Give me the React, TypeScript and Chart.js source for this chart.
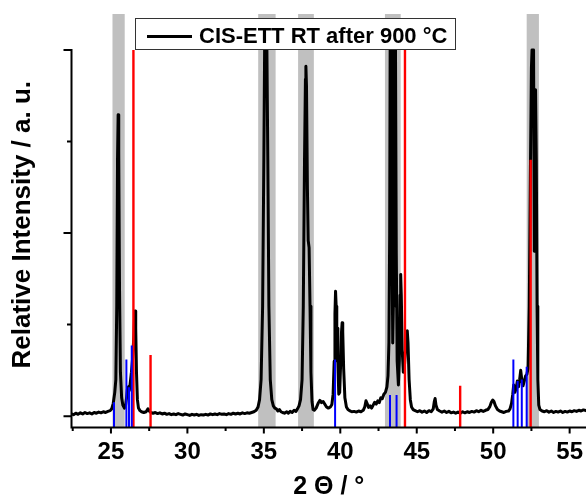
import React, { useEffect, useRef } from 'react';
import { Chart, registerables } from 'chart.js';

Chart.register(...registerables);

// Diffractogram: 2θ positions (degrees) and normalised intensity
const THETA = [
  22.42, 22.55, 22.7, 22.85, 23.0, 23.15, 23.3, 23.45, 23.6, 23.75, 23.9, 24.05, 24.2, 24.35, 24.5, 24.65, 24.8, 24.95,
  25.05, 25.15, 25.25, 25.32, 25.38, 25.43, 25.47, 25.51, 25.56, 25.62, 25.7, 25.78, 25.88, 25.96, 26.02, 26.08, 26.14,
  26.2, 26.26, 26.34, 26.42, 26.5, 26.55, 26.58, 26.62, 26.67, 26.73, 26.8, 26.9, 27.0, 27.15, 27.3, 27.42, 27.5, 27.6,
  27.75, 27.9, 28.05, 28.2, 28.35, 28.5, 28.65, 28.8, 28.95, 29.1, 29.25, 29.4, 29.55, 29.7, 29.85, 30.0, 30.15, 30.3,
  30.45, 30.6, 30.75, 30.9, 31.05, 31.2, 31.35, 31.5, 31.65, 31.8, 31.95, 32.1, 32.25, 32.4, 32.55, 32.7, 32.85, 33.0,
  33.15, 33.3, 33.45, 33.6, 33.75, 33.9, 34.05, 34.2, 34.35, 34.5, 34.62, 34.72, 34.82, 34.92, 35.0, 35.05, 35.2, 35.26,
  35.33, 35.42, 35.52, 35.62, 35.72, 35.82, 35.92, 36.02, 36.12, 36.22, 36.35, 36.5, 36.6, 36.72, 36.85, 36.98, 37.1,
  37.2, 37.3, 37.4, 37.5, 37.58, 37.66, 37.72, 37.75, 37.79, 37.85, 37.9, 37.96, 38.02, 38.08, 38.15, 38.22, 38.3,
  38.42, 38.55, 38.67, 38.77, 38.88, 38.98, 39.1, 39.22, 39.35, 39.45, 39.53, 39.6, 39.65, 39.69, 39.73, 39.77, 39.8,
  39.84, 39.9, 39.96, 40.02, 40.08, 40.12, 40.16, 40.22, 40.3, 40.4, 40.5, 40.6, 40.75, 40.9, 41.05, 41.2, 41.35, 41.5,
  41.6, 41.68, 41.75, 41.85, 41.95, 42.05, 42.15, 42.25, 42.35, 42.45, 42.55, 42.65, 42.75, 42.85, 42.95, 43.05, 43.12,
  43.18, 43.23, 43.26, 43.33, 43.38, 43.43, 43.47, 43.51, 43.61, 43.66, 43.72, 43.8, 43.86, 43.91, 43.95, 43.99, 44.05,
  44.12, 44.2, 44.28, 44.34, 44.38, 44.43, 44.5, 44.58, 44.66, 44.76, 44.9, 45.05, 45.2, 45.35, 45.5, 45.65, 45.8,
  45.95, 46.08, 46.15, 46.2, 46.26, 46.35, 46.5, 46.65, 46.8, 46.95, 47.1, 47.25, 47.4, 47.55, 47.7, 47.85, 48.0, 48.15,
  48.3, 48.45, 48.6, 48.75, 48.9, 49.05, 49.2, 49.35, 49.5, 49.65, 49.78, 49.88, 49.97, 50.05, 50.15, 50.28, 50.42,
  50.56, 50.7, 50.85, 51.0, 51.1, 51.2, 51.28, 51.34, 51.42, 51.5, 51.58, 51.66, 51.73, 51.8, 51.87, 51.95, 52.03,
  52.12, 52.2, 52.28, 52.36, 52.43, 52.5, 52.54, 52.64, 52.69, 52.73, 52.77, 52.82, 52.87, 52.92, 52.98, 53.06, 53.2,
  53.35, 53.5, 53.65, 53.8, 53.95, 54.1, 54.25, 54.4, 54.55, 54.7, 54.85, 55.0, 55.15, 55.3, 55.45, 55.6, 55.75, 55.9,
  56.07,
];
const INTENSITY = [
  0.006, 0.004, 0.008, 0.005, 0.009, 0.006, 0.01, 0.007, 0.009, 0.006, 0.01, 0.008, 0.011, 0.009, 0.012, 0.01, 0.013, 0.015,
  0.02, 0.035, 0.065, 0.1, 0.3, 0.7, 0.823, 0.72, 0.35, 0.12, 0.05, 0.03, 0.022, 0.03, 0.05, 0.075, 0.08,
  0.07, 0.09, 0.12, 0.16, 0.22, 0.28, 0.287, 0.24, 0.12, 0.045, 0.022, 0.015, 0.012, 0.01, 0.012, 0.02, 0.014, 0.01,
  0.008, 0.01, 0.007, 0.009, 0.006, 0.008, 0.005, 0.007, 0.004, 0.006, 0.004, 0.007, 0.005, 0.003, 0.006, 0.004, 0.002, 0.005,
  0.003, 0.005, 0.002, 0.004, 0.003, 0.005, 0.003, 0.006, 0.004, 0.006, 0.004, 0.007, 0.005, 0.006, 0.004, 0.007, 0.005, 0.008,
  0.006, 0.008, 0.006, 0.009, 0.007, 0.009, 0.008, 0.01, 0.012, 0.016, 0.025, 0.045, 0.1, 0.3, 0.7, 1.0, 1.0, 0.7,
  0.3, 0.1, 0.045, 0.028, 0.022, 0.02, 0.014, 0.018, 0.012, 0.01, 0.008, 0.012, 0.008, 0.013, 0.01, 0.016, 0.013,
  0.02, 0.028, 0.045, 0.1, 0.3, 0.7, 0.92, 0.955, 0.9, 0.62, 0.48, 0.46, 0.3, 0.12, 0.04, 0.018, 0.016,
  0.022, 0.035, 0.043, 0.037, 0.04, 0.033, 0.025, 0.022, 0.025, 0.032, 0.06, 0.15, 0.28, 0.341, 0.3, 0.22, 0.24,
  0.15, 0.06, 0.065, 0.14, 0.23, 0.255, 0.23, 0.13, 0.05, 0.025, 0.018, 0.015, 0.012, 0.013, 0.011, 0.014, 0.012, 0.016,
  0.025, 0.042, 0.035, 0.024, 0.028, 0.022, 0.03, 0.038, 0.033, 0.042, 0.037, 0.05, 0.048, 0.06, 0.065, 0.08, 0.11,
  0.2, 0.5, 1.0, 1.0, 0.5, 0.2, 0.3, 1.0, 1.0, 0.45, 0.15, 0.085, 0.15, 0.33, 0.387, 0.33, 0.18,
  0.12, 0.14, 0.19, 0.23, 0.233, 0.2, 0.1, 0.045, 0.025, 0.018, 0.015, 0.012, 0.015, 0.011, 0.014, 0.01, 0.015,
  0.012, 0.02, 0.04, 0.048, 0.03, 0.018, 0.014, 0.011, 0.014, 0.01, 0.013, 0.009, 0.011, 0.008, 0.011, 0.008, 0.012, 0.009,
  0.012, 0.01, 0.013, 0.011, 0.015, 0.012, 0.016, 0.013, 0.016, 0.018, 0.026, 0.038, 0.044, 0.04, 0.028, 0.018, 0.014,
  0.012, 0.01, 0.013, 0.014, 0.02, 0.035, 0.06, 0.085, 0.065, 0.075, 0.096, 0.08, 0.1, 0.125, 0.1, 0.083, 0.095,
  0.11, 0.114, 0.13, 0.3, 0.65, 0.95, 1.0, 1.0, 0.45, 0.7, 0.891, 0.7, 0.3, 0.1, 0.03, 0.018, 0.014,
  0.012, 0.015, 0.011, 0.014, 0.01, 0.013, 0.011, 0.014, 0.01, 0.013, 0.011, 0.014, 0.012, 0.015, 0.013, 0.016, 0.014, 0.017,
  0.015,
];

// Reference reflections (position in 2θ, relative intensity)
const RED_POS = [26.47, 27.59, 44.23, 47.84, 52.45];
const RED_INT = [1.0, 0.167, 1.0, 0.083, 0.7];
const BLUE_POS = [25.2, 26.01, 26.18, 26.36, 39.66, 43.25, 43.68, 51.32, 51.6, 51.87, 52.19];
const BLUE_INT = [0.038, 0.155, 0.079, 0.193, 0.155, 0.058, 0.058, 0.155, 0.096, 0.1, 0.135];

// Shaded 2θ windows
const BAND_START = [25.1, 34.63, 37.24, 42.92, 52.19];
const BAND_END = [25.9, 35.77, 38.27, 43.95, 52.99];

const X_TICKS = [25, 30, 35, 40, 45, 50, 55];
const X_MINOR = [22.5, 27.5, 32.5, 37.5, 42.5, 47.5, 52.5];
const Y_TICKS = [0, 0.5, 1];
const Y_MINOR = [0.25, 0.75];

const SERIES_LABEL = 'CIS-ETT RT after 900 °C';
const X_TITLE = '2 Θ / °';
const Y_TITLE = 'Relative Intensity / a. u.';

const X_MIN = 22.42;
const X_MAX = 56.07;
const Y_MIN = -0.031;
const Y_MAX = 1.098;

const FONT = '"Liberation Sans", Arial, Helvetica, sans-serif';

const sticks = (pos: number[], h: number[]) =>
  pos.flatMap((x, i) => [
    { x, y: Y_MIN },
    { x, y: h[i] },
    { x, y: null as number | null },
  ]);

const decorPlugin = {
  id: 'xrdDecor',
  beforeDatasetsDraw(chart: any) {
    const { ctx, chartArea, scales } = chart;
    const xs = scales.x;
    ctx.save();
    ctx.fillStyle = '#c0c0c0';
    BAND_START.forEach((s, i) => {
      const x0 = xs.getPixelForValue(s);
      const x1 = xs.getPixelForValue(BAND_END[i]);
      ctx.fillRect(x0, chartArea.top, x1 - x0, chartArea.bottom - chartArea.top);
    });
    ctx.restore();
  },
  afterDatasetsDraw(chart: any) {
    const { ctx, chartArea, scales } = chart;
    const xs = scales.x;
    const ys = scales.y;
    const { left, right, bottom } = chartArea;
    ctx.save();
    ctx.strokeStyle = '#000';
    ctx.lineWidth = 2;
    ctx.lineCap = 'butt';
    ctx.beginPath();
    const yTop = ys.getPixelForValue(1);
    ctx.moveTo(left, yTop - 1);
    ctx.lineTo(left, bottom + 1);
    ctx.moveTo(left - 1, bottom);
    ctx.lineTo(right, bottom);
    Y_TICKS.forEach((v) => {
      const p = ys.getPixelForValue(v);
      ctx.moveTo(left - 8, p);
      ctx.lineTo(left, p);
    });
    Y_MINOR.forEach((v) => {
      const p = ys.getPixelForValue(v);
      ctx.moveTo(left - 4.5, p);
      ctx.lineTo(left, p);
    });
    X_TICKS.forEach((v) => {
      const p = xs.getPixelForValue(v);
      ctx.moveTo(p, bottom);
      ctx.lineTo(p, bottom + 6);
    });
    X_MINOR.forEach((v) => {
      if (v < X_MIN || v > X_MAX) return;
      const p = xs.getPixelForValue(v);
      ctx.moveTo(p, bottom);
      ctx.lineTo(p, bottom + 3.5);
    });
    ctx.stroke();

    // vertical axis title, centred on the drawn axis span
    const yMid = (ys.getPixelForValue(1) + bottom) / 2 - 14;
    ctx.translate(23, yMid);
    ctx.rotate(-Math.PI / 2);
    ctx.font = `bold 26px ${FONT}`;
    ctx.fillStyle = '#000';
    ctx.textAlign = 'center';
    ctx.textBaseline = 'middle';
    ctx.fillText(Y_TITLE, 0, 0);
    ctx.restore();
  },
  afterDraw(chart: any) {
    const { ctx } = chart;
    const ds = chart.data.datasets[0];
    ctx.save();
    ctx.font = `bold 22px ${FONT}`;
    const textX = 199;
    const textW = ctx.measureText(ds.label).width;
    const boxL = 135;
    const boxT = 18;
    const boxR = Math.round(textX + textW + 9);
    const boxB = 49;
    ctx.fillStyle = '#fff';
    ctx.fillRect(boxL, boxT, boxR - boxL, boxB - boxT);
    ctx.strokeStyle = '#333';
    ctx.lineWidth = 1;
    ctx.strokeRect(boxL + 0.5, boxT + 0.5, boxR - boxL - 1, boxB - boxT);
    ctx.strokeStyle = ds.borderColor;
    ctx.lineWidth = 3;
    ctx.beginPath();
    ctx.moveTo(147, 36.5);
    ctx.lineTo(192, 36.5);
    ctx.stroke();
    ctx.fillStyle = '#000';
    ctx.textBaseline = 'middle';
    ctx.textAlign = 'left';
    ctx.fillText(ds.label, textX, 37);
    ctx.restore();
  },
};

export default function App() {
  const ref = useRef<HTMLCanvasElement>(null);

  useEffect(() => {
    if (!ref.current) return;
    const chart = new Chart(ref.current, {
      type: 'line',
      data: {
        datasets: [
          {
            label: SERIES_LABEL,
            data: THETA.map((x, i) => ({ x, y: INTENSITY[i] })),
            borderColor: '#000',
            borderWidth: 3,
            pointRadius: 0,
            tension: 0,
            borderJoinStyle: 'round',
            borderCapStyle: 'round',
            order: 3,
          },
          {
            label: 'red reference',
            data: sticks(RED_POS, RED_INT),
            borderColor: '#ff0000',
            borderWidth: 2.4,
            pointRadius: 0,
            spanGaps: false,
            order: 2,
          },
          {
            label: 'blue reference',
            data: sticks(BLUE_POS, BLUE_INT),
            borderColor: '#0000ff',
            borderWidth: 2,
            pointRadius: 0,
            spanGaps: false,
            order: 1,
          },
        ],
      } as any,
      options: {
        responsive: false,
        animation: false,
        devicePixelRatio: 1,
        layout: { padding: { top: 14, left: 0, right: 0, bottom: 0 } },
        plugins: {
          legend: { display: false },
          tooltip: { enabled: false },
        },
        scales: {
          x: {
            type: 'linear',
            min: X_MIN,
            max: X_MAX,
            grid: { display: false, drawTicks: false },
            border: { display: false },
            afterBuildTicks: (scale: any) => {
              scale.ticks = X_TICKS.map((v) => ({ value: v }));
            },
            afterFit: (scale: any) => {
              scale.height = 68.5;
              scale.paddingLeft = 0;
              scale.paddingRight = 0;
            },
            ticks: {
              color: '#000',
              padding: 10,
              maxRotation: 0,
              autoSkip: false,
              font: { family: FONT, size: 24, weight: 'bold' },
              callback: (v: any) => String(v),
            },
            title: {
              display: true,
              text: X_TITLE,
              color: '#000',
              font: { family: FONT, size: 25, weight: 'bold' },
              padding: { top: 0, bottom: -6.5 },
            },
          },
          y: {
            type: 'linear',
            min: Y_MIN,
            max: Y_MAX,
            grid: { display: false, drawTicks: false },
            border: { display: false },
            ticks: { display: false },
            afterFit: (scale: any) => {
              scale.width = 71.5;
              scale.paddingTop = 0;
              scale.paddingBottom = 0;
            },
            title: { display: false },
          },
        },
      } as any,
      plugins: [decorPlugin],
    });
    return () => chart.destroy();
  }, []);

  return (
    <div style={{ position: 'fixed', left: 0, top: 0, width: 586, height: 496, background: '#fff' }}>
      <canvas ref={ref} width={586} height={496} style={{ display: 'block', width: 586, height: 496 }} />
    </div>
  );
}
